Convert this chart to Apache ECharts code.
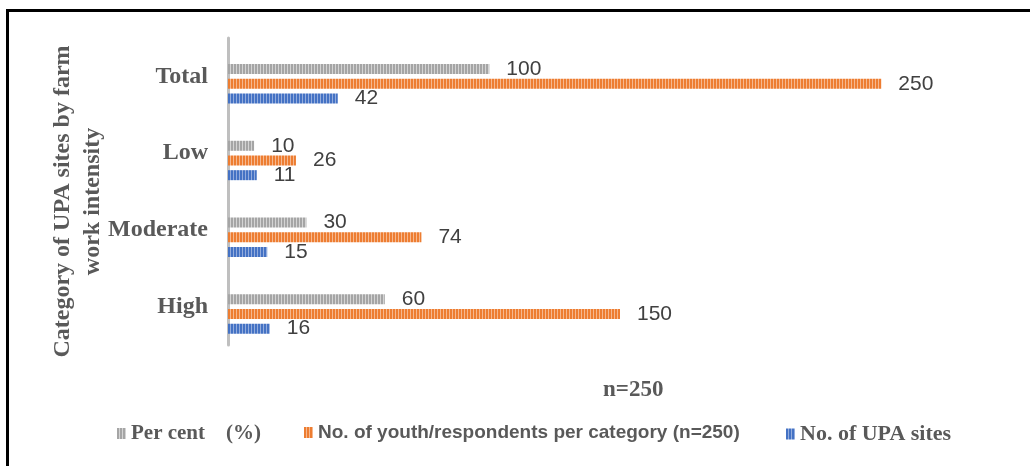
<!DOCTYPE html>
<html>
<head>
<meta charset="utf-8">
<style>
  html, body { margin: 0; padding: 0; background: #fff; }
  #wrap { position: relative; width: 1030px; height: 466px; }
  #frame { position: absolute; left: 6px; top: 9px; right: 0; bottom: 0;
           border-top: 3px solid #000; border-left: 3px solid #000; }
  #main { position: absolute; left: 0; top: 0; width: 1030px; height: 466px; }
</style>
</head>
<body>
<div id="wrap">
  <div id="frame"></div>
  <div id="main"></div>
</div>
<script src="https://cdn.jsdelivr.net/npm/echarts@6/dist/echarts.min.js"></script>
<script>
    // data
    var categories = ['High', 'Moderate', 'Low', 'Total'];
    var perCent = [60, 30, 10, 100];
    var youth = [150, 74, 26, 250];
    var upaSites = [16, 15, 11, 42];

    // striped fill like the excel bars
    function stripes(base, light) {
        var c = document.createElement('canvas');
        c.width = 3;
        c.height = 4;
        var ctx = c.getContext('2d');
        ctx.fillStyle = base;
        ctx.fillRect(0, 0, 3, 4);
        ctx.fillStyle = light;
        ctx.fillRect(2, 0, 1, 4);
        return { image: c, repeat: 'repeat' };
    }

    var grayFill = stripes('#a5a5a5', '#d4d4d4');
    var orangeFill = stripes('#ed7d31', '#f6b88f');
    var blueFill = stripes('#4472c4', '#93acdd');

    var labelStyle = {
        show: true,
        position: 'right',
        distance: 17,
        color: '#404040',
        fontSize: 21,
        fontFamily: 'Liberation Sans'
    };

    var myChart = echarts.init(document.getElementById('main'));

    option = {
        animation: false,
        grid: { left: 228, top: 38, bottom: 121, right: 18 },
        legend: [
            {
                data: ['Per cent\u3000(%)'],
                left: 112, top: 418,
                icon: 'rect', itemWidth: 9, itemHeight: 11,
                textStyle: { fontFamily: 'Liberation Serif', fontWeight: 'bold', fontSize: 21, color: '#595959' }
            },
            {
                data: ['No. of youth/respondents per category (n=250)'],
                left: 299, top: 418,
                icon: 'rect', itemWidth: 9, itemHeight: 11,
                textStyle: { fontFamily: 'Liberation Sans', fontWeight: 'bold', fontSize: 19, color: '#595959' }
            },
            {
                data: ['No. of UPA sites'],
                left: 781, top: 418,
                icon: 'rect', itemWidth: 9, itemHeight: 11,
                textStyle: { fontFamily: 'Liberation Serif', fontWeight: 'bold', fontSize: 22, color: '#595959' }
            }
        ],
        graphic: [
            {
                type: 'text', left: 603, top: 379,
                style: { text: 'n=250', font: 'bold 23px "Liberation Serif"', fill: '#595959' }
            }
        ],
        xAxis: {
            type: 'value',
            min: 0,
            max: 300,
            show: false
        },
        yAxis: {
            type: 'category',
            data: categories,
            name: 'Category of UPA sites by farm\nwork intensity',
            nameLocation: 'middle',
            nameRotate: 90,
            nameGap: 120,
            nameMoveOverlap: false,
            nameTextStyle: {
                fontFamily: 'Liberation Serif', fontWeight: 'bold', fontSize: 24,
                lineHeight: 30, color: '#595959',
                padding: [0, 20, 0, 0]
            },
            axisLine: { lineStyle: { color: '#bfbfbf', width: 3 } },
            axisTick: { show: false },
            axisLabel: {
                margin: 20,
                fontFamily: 'Liberation Serif', fontWeight: 'bold', fontSize: 24, color: '#595959'
            }
        },
        series: [
            {
                // empty slot, keeps the bars below the category label as in the picture
                name: 'spacer',
                type: 'bar',
                barWidth: 10,
                barGap: '47%',
                data: []
            },
            {
                name: 'Per cent\u3000(%)',
                type: 'bar',
                barWidth: 10,
                barGap: '47%',
                itemStyle: { color: grayFill },
                label: labelStyle,
                data: perCent
            },
            {
                name: 'No. of youth/respondents per category (n=250)',
                type: 'bar',
                barWidth: 10,
                barGap: '47%',
                itemStyle: { color: orangeFill },
                label: labelStyle,
                data: youth
            },
            {
                name: 'No. of UPA sites',
                type: 'bar',
                barWidth: 10,
                barGap: '47%',
                itemStyle: { color: blueFill },
                label: labelStyle,
                data: upaSites
            }
        ]
    };

    myChart.setOption(option);
</script>
</body>
</html>
